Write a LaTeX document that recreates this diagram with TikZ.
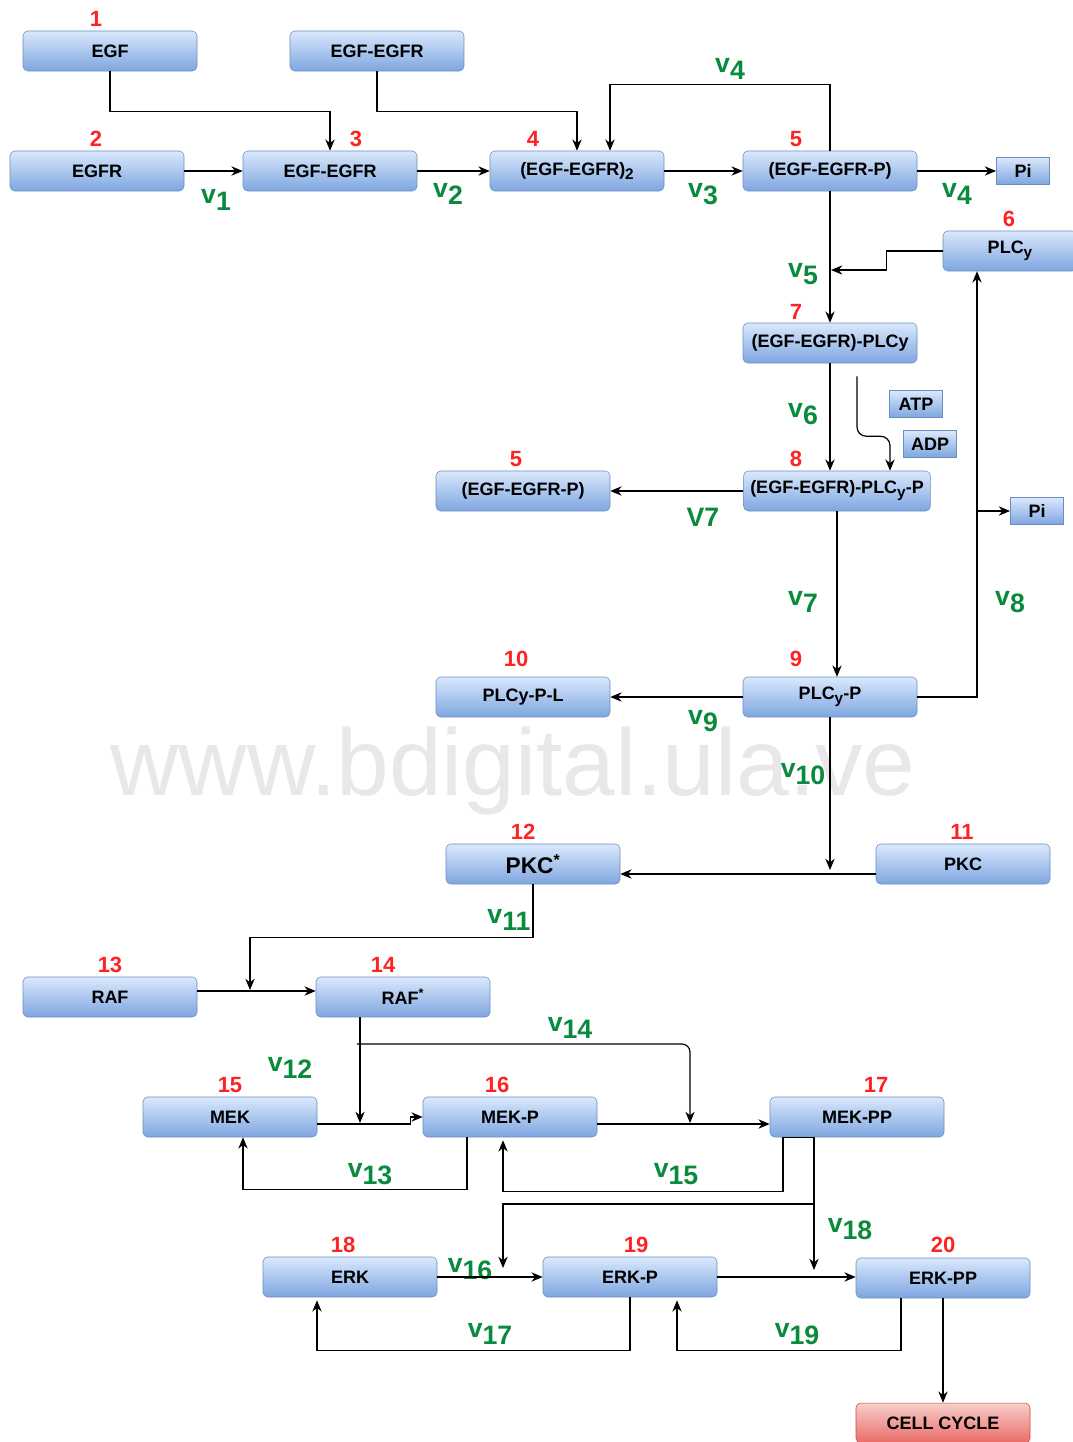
\documentclass[tikz,border=0pt]{standalone}
\usepackage{fontspec}
\setmainfont{Liberation Sans}
\usetikzlibrary{arrows.meta,calc}
\definecolor{boxtop}{HTML}{DAE8FC}
\definecolor{boxbot}{HTML}{7EA6E0}
\definecolor{boxline}{HTML}{6C8EBF}
\definecolor{redtop}{HTML}{F8CECC}
\definecolor{redbot}{HTML}{EA6B66}
\definecolor{redline}{HTML}{B85450}
\definecolor{numred}{HTML}{FF2222}
\definecolor{rategreen}{HTML}{0A8A3C}
\newcommand{\vrate}[1]{v\raisebox{-5.5pt}{#1}}
\newcommand{\lowsub}[1]{\raisebox{-3pt}{\fontsize{11.5}{12}\selectfont #1}}
\begin{document}
\begin{tikzpicture}[x=0.75pt, y=-0.75pt,
    species/.style={draw=boxline, top color=boxtop, bottom color=boxbot, rounded corners=3.5pt,
        minimum width=130.5pt, minimum height=30pt, inner sep=0pt,
        font=\fontsize{13.5}{15}\selectfont\bfseries},
    smallbox/.style={species, rounded corners=0pt, minimum width=40pt, minimum height=20pt},
    endbox/.style={species, draw=redline, top color=redtop, bottom color=redbot},
    num/.style={text=numred, inner sep=0pt, font=\fontsize{16.5}{18}\selectfont\bfseries},
    rate/.style={text=rategreen, inner sep=0pt, font=\fontsize{20}{22}\selectfont\bfseries},
    watermark/.style={text=black!9, anchor=base, inner sep=0pt, font=\fontsize{71}{71}\selectfont},
    flow/.style={line width=0.9pt, -{Stealth[length=8.5pt,width=7pt]}}]
    \useasboundingbox (0,0) rectangle (1072,1442);
    \node[watermark] (wm) at (513,795) {www.bdigital.ula.ve};
    % receptor activation
    \node[species] (egf) at (110,51) {EGF};
    \node[species] (egfegfrA) at (377,51) {EGF-EGFR};
    \node[species] (egfr) at (97,171) {EGFR};
    \node[species] (egfegfr) at (330,171) {EGF-EGFR};
    \node[species] (dimer) at (577,171) {(EGF-EGFR)\lowsub{2}};
    \node[species] (recP) at (830,171) {(EGF-EGFR-P)};
    \node[smallbox] (pi1) at (1023,171) {Pi};
    \node[species, minimum width=100.5pt] (plc) at (1010,251) {PLC\lowsub{y}};
    \node[species] (cplx) at (830,343) {(EGF-EGFR)-PLCy};
    \node[smallbox] (atp) at (916,404) {ATP};
    \node[smallbox] (adp) at (930,444) {ADP};
    \node[species, minimum width=140pt] (cplxP) at (837,491) {(EGF-EGFR)-PLC\lowsub{y}-P};
    \node[species] (recPb) at (523,491) {(EGF-EGFR-P)};
    \node[smallbox] (pi2) at (1037,511) {Pi};
    \node[species] (plcP) at (830,697) {PLC\lowsub{y}-P};
    \node[species] (plcPL) at (523,697) {PLCy-P-L};
    % kinase cascade
    \node[species] (pkcS) at (533,864) {\fontsize{17}{18}\selectfont PKC\textsuperscript{*}};
    \node[species] (pkc) at (963,864) {PKC};
    \node[species] (raf) at (110,997) {RAF};
    \node[species] (rafS) at (403,997) {RAF\textsuperscript{*}};
    \node[species] (mek) at (230,1117) {MEK};
    \node[species] (mekP) at (510,1117) {MEK-P};
    \node[species] (mekPP) at (857,1117) {MEK-PP};
    \node[species] (erk) at (350,1277) {ERK};
    \node[species] (erkP) at (630,1277) {ERK-P};
    \node[species] (erkPP) at (943,1278) {ERK-PP};
    \node[endbox] (cycle) at (943,1423) {CELL CYCLE};
    % species numbers
    \node[num] (n1) at (96,19) {1};
    \node[num] (n2) at (96,139) {2};
    \node[num] (n3) at (356,139) {3};
    \node[num] (n4) at (533,139) {4};
    \node[num] (n5) at (796,139) {5};
    \node[num] (n6) at (1009,219) {6};
    \node[num] (n7) at (796,312) {7};
    \node[num] (n8) at (796,459) {8};
    \node[num] (n5b) at (516,459) {5};
    \node[num] (n10) at (516,659) {10};
    \node[num] (n9) at (796,659) {9};
    \node[num] (n12) at (523,832) {12};
    \node[num] (n11) at (962,832) {11};
    \node[num] (n13) at (110,965) {13};
    \node[num] (n14) at (383,965) {14};
    \node[num] (n15) at (230,1085) {15};
    \node[num] (n16) at (497,1085) {16};
    \node[num] (n17) at (876,1085) {17};
    \node[num] (n18) at (343,1245) {18};
    \node[num] (n19) at (636,1245) {19};
    \node[num] (n20) at (943,1245) {20};
    % reaction rates
    \node[rate] (r1) at (216,200) {\vrate{1}};
    \node[rate] (r2) at (448,194) {\vrate{2}};
    \node[rate] (r4a) at (730,69) {\vrate{4}};
    \node[rate] (r3) at (703,194) {\vrate{3}};
    \node[rate] (r4b) at (957,194) {\vrate{4}};
    \node[rate] (r5) at (803,274) {\vrate{5}};
    \node[rate] (r6) at (803,414) {\vrate{6}};
    \node[rate] (r7a) at (703,517) {V7};
    \node[rate] (r7b) at (803,602) {\vrate{7}};
    \node[rate] (r8) at (1010,602) {\vrate{8}};
    \node[rate] (r9) at (703,721) {\vrate{9}};
    \node[rate] (r10) at (803,774) {\vrate{10}};
    \node[rate] (r11) at (509,920) {\vrate{11}};
    \node[rate] (r12) at (290,1068) {\vrate{12}};
    \node[rate] (r13) at (370,1174) {\vrate{13}};
    \node[rate] (r14) at (570,1028) {\vrate{14}};
    \node[rate] (r15) at (676,1174) {\vrate{15}};
    \node[rate] (r16) at (470,1269) {\vrate{16}};
    \node[rate] (r17) at (490,1334) {\vrate{17}};
    \node[rate] (r18) at (850,1229) {\vrate{18}};
    \node[rate] (r19) at (797,1334) {\vrate{19}};
    % junctions on other arrows
    \coordinate (j5) at (831,270);
    \coordinate (j8) at (977,511);
    \coordinate (j10) at (830,870);
    \coordinate (j11) at (250,990);
    \coordinate (j12) at (360,1123);
    \coordinate (j14s) at (357,1044);
    \coordinate (j14) at (690,1123);
    \coordinate (b18) at (814,1204);
    \coordinate (j16) at (503,1268);
    \coordinate (j18) at (814,1270);
    % arrows, top part
    \draw[flow] (egf.south) -- ++(0,40) -| (egfegfr.north);
    \draw[flow] (egfegfrA.south) -- ++(0,40) -| (dimer.north);
    \draw[flow] (egfr) -- (egfegfr);
    \draw[flow] (egfegfr) -- (dimer);
    \draw[flow] (dimer) -- (recP);
    \draw[flow] (recP.east) -- (recP.east -| pi1.west);
    \draw[flow] (recP.north) -- ++(0,-66) -| ($(dimer.north)+(33,0)$);
    \draw[flow] (recP.south) -- (cplx.north);
    \draw[flow] (plc.west) -- ++(-56,0) |- (j5);
    \draw[flow] (cplx.south) -- (cplx.south |- cplxP.north);
    \draw[flow, rounded corners=7pt] ($(cplx.south)+(27,13)$) -- ++(0,60) -| ($(cplxP.north)+(53,0)$);
    \draw[flow] (cplxP.west) -- (recPb.east);
    \draw[flow] (cplxP.south) -- (cplxP.south |- plcP.north);
    \draw[flow] (plcP.east) -| ($(plc.south)+(-33,0)$);
    \draw[flow] (j8) -- (pi2.west);
    \draw[flow] (plcP.west) -- (plcPL.east);
    \draw[flow] (plcP.south) -- (j10);
    \draw[flow] ($(pkc.west)+(0,10)$) -- ($(pkcS.east)+(0,10)$);
    % arrows, cascade
    \draw[flow] (pkcS.south) -- ++(0,53) -| (j11);
    \draw[flow] ($(raf.east)+(0,-6)$) -- ($(rafS.west)+(0,-6)$);
    \draw[flow] ($(rafS.south)+(-43,0)$) -- (j12);
    \draw[flow, rounded corners=6pt] (j14s) -| (j14);
    \draw[flow] ($(mek.east)+(0,7)$) -- ++(93,0) |- (mekP.west);
    \draw[flow] ($(mekP.east)+(0,7)$) -- ($(mekPP.west)+(0,7)$);
    \draw[flow] ($(mekP.south)+(-43,0)$) -- ++(0,52) -| ($(mek.south)+(13,0)$);
    \draw[line width=0.9pt] ($(mekPP.south)+(-74,0)$) -- ($(mekPP.south)+(-43,0)$);
    \draw[flow] ($(mekPP.south)+(-74,0)$) -- ++(0,54) -| ($(mekP.south)+(-7,3)$);
    \draw[flow] ($(mekPP.south)+(-43,0)$) -- (j18);
    \draw[flow] (b18) -| (j16);
    \draw[flow] (erk.east) -- (erkP.west);
    \draw[flow] (erkP.east) -- (erkP.east -| erkPP.west);
    \draw[flow] (erkP.south) -- ++(0,53) -| ($(erk.south)+(-33,3)$);
    \draw[flow] ($(erkPP.south)+(-42,0)$) -- ++(0,52) -| ($(erkP.south)+(47,3)$);
    \draw[flow] (erkPP.south) -- (cycle.north);
\end{tikzpicture}
\end{document}
